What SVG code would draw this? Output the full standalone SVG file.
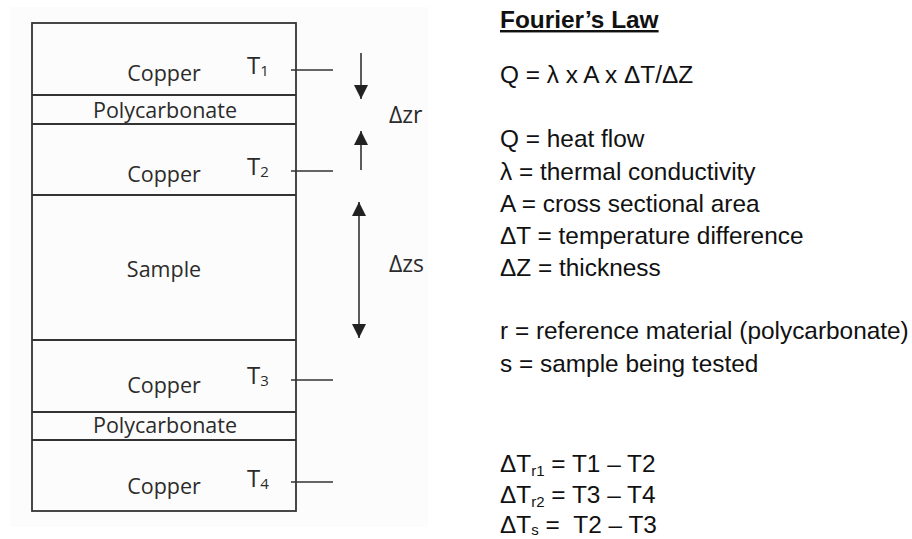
<svg xmlns="http://www.w3.org/2000/svg" width="912" height="539" viewBox="0 0 912 539">
<defs>
<style>
.lbl{font-family:"Open Sans","DejaVu Sans",sans-serif;font-size:21.5px;fill:#2b2b2b;text-anchor:middle}
.t{font-family:"Open Sans","DejaVu Sans",sans-serif;font-size:24px;fill:#2b2b2b}
.sub{font-size:15px}
.dz{font-family:"Open Sans","DejaVu Sans",sans-serif;font-size:23px;fill:#2b2b2b}
.box{fill:none;stroke:#333;stroke-width:1.8}
.sep{stroke:#333;stroke-width:1.8}
.tick{stroke:#333;stroke-width:1.4}
.arr{stroke:#333;stroke-width:1.6;fill:none}
.eq{font-family:"Liberation Sans",Arial,sans-serif;font-size:24.4px;fill:#111}
.eqs{font-size:15px}
</style>
<marker id="ah" viewBox="0 0 14 14" refX="14" refY="7" markerWidth="14" markerHeight="14" markerUnits="userSpaceOnUse" orient="auto">
<path d="M0,0 L14,7 L0,14 Z" fill="#222"/>
</marker>
</defs>
<rect width="912" height="539" fill="#ffffff"/>
<rect x="10" y="7" width="418" height="520" fill="#fcfcfc"/>
<g id="stack">
<rect class="box" x="32" y="23" width="264" height="488"/>
<line class="sep" x1="32" y1="95" x2="296" y2="95"/>
<line class="sep" x1="32" y1="124" x2="296" y2="124"/>
<line class="sep" x1="32" y1="195" x2="296" y2="195"/>
<line class="sep" x1="32" y1="340" x2="296" y2="340"/>
<line class="sep" x1="32" y1="412" x2="296" y2="412"/>
<line class="sep" x1="32" y1="440" x2="296" y2="440"/>
</g>
<g id="copper1"><text class="lbl" x="164" y="81">Copper</text><text class="t" x="247" y="74">T<tspan class="sub" dy="2">1</tspan></text></g>
<g id="poly1"><text class="lbl" x="165" y="118">Polycarbonate</text></g>
<g id="copper2"><text class="lbl" x="164" y="182">Copper</text><text class="t" x="247" y="175">T<tspan class="sub" dy="2">2</tspan></text></g>
<g id="sample"><text class="lbl" x="164" y="277">Sample</text></g>
<g id="copper3"><text class="lbl" x="164" y="393">Copper</text><text class="t" x="247" y="384">T<tspan class="sub" dy="2">3</tspan></text></g>
<g id="poly2"><text class="lbl" x="165" y="433">Polycarbonate</text></g>
<g id="copper4"><text class="lbl" x="164" y="494">Copper</text><text class="t" x="247" y="487">T<tspan class="sub" dy="2">4</tspan></text></g>
<g id="connectors">
<line class="tick" x1="291" y1="70" x2="333" y2="70"/>
<line class="tick" x1="291" y1="171" x2="333" y2="171"/>
<line class="tick" x1="291" y1="380" x2="333" y2="380"/>
<line class="tick" x1="291" y1="482" x2="333" y2="482"/>
<line class="arr" x1="361" y1="53" x2="361" y2="99" marker-end="url(#ah)"/>
<line class="arr" x1="361" y1="170" x2="361" y2="131" marker-end="url(#ah)"/>
<line class="arr" x1="359" y1="270" x2="359" y2="202" marker-end="url(#ah)"/>
<line class="arr" x1="359" y1="270" x2="359" y2="338" marker-end="url(#ah)"/>
</g>
<g id="dzr"><text class="dz" x="389" y="123">Δzr</text></g>
<g id="dzs"><text class="dz" x="389" y="272">Δzs</text></g>
<g id="legend">
<text class="eq" x="500" y="28" font-weight="bold" text-decoration="underline">Fourier’s Law</text>
<text class="eq" x="500" y="83">Q = λ x A x ΔT/ΔZ</text>
<text class="eq" x="500" y="147">Q = heat flow</text>
<text class="eq" x="500" y="180">λ = thermal conductivity</text>
<text class="eq" x="500" y="212">A = cross sectional area</text>
<text class="eq" x="500" y="244">ΔT = temperature difference</text>
<text class="eq" x="500" y="276">ΔZ = thickness</text>
<text class="eq" x="500" y="339">r = reference material (polycarbonate)</text>
<text class="eq" x="500" y="372">s = sample being tested</text>
<text class="eq" x="500" y="472">ΔT<tspan class="eqs" dy="4">r1</tspan><tspan dy="-4"> = T1 – T2</tspan></text>
<text class="eq" x="500" y="503">ΔT<tspan class="eqs" dy="4">r2</tspan><tspan dy="-4"> = T3 – T4</tspan></text>
<text class="eq" x="500" y="533">ΔT<tspan class="eqs" dy="2">s</tspan><tspan dy="-2"> = &#160;T2 – T3</tspan></text>
</g>
</svg>
